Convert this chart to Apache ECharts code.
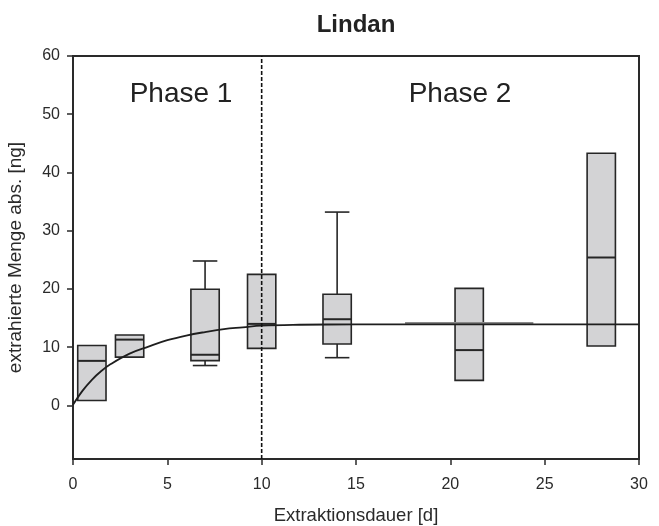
<!DOCTYPE html>
<html>
<head>
<meta charset="utf-8">
<script src="https://cdn.jsdelivr.net/npm/echarts@6/dist/echarts.min.js"></script>
<style>
html,body{margin:0;padding:0;background:#fff;}
#chart{width:659px;height:526px;}
</style>
</head>
<body>
<div id="chart"></div>
<script>
// ---- data ----
const chartTitle = 'Lindan';
const xAxisName = 'Extraktionsdauer [d]';
const yAxisName = 'extrahierte Menge abs. [ng]';
const yTickValues = [0, 10, 20, 30, 40, 50, 60];

const days          = [1,    3,    7,    10,   14,   21,   28];
const lowerWhisker  = [null, null, 6.85, null, 8.2,  null, null];
const q1            = [0.85, 8.3,  7.7,  9.8,  10.55,4.3,  10.2];
const median        = [7.65, 11.3, 8.7,  14.0, 14.8, 9.5,  25.4];
const q3            = [10.3, 12.1, 19.95,22.5, 19.1, 20.1, 43.3];
const upperWhisker  = [null, null, 24.8, null, 33.2, null, null];

const curveDays   = [0,   0.5, 1,   1.5, 2,   3,   4,    5,    6,    7,    8,    9,    10,   12,   15,   20,   25,   30];
const curveValues = [0.1, 2.5, 4.4, 5.9, 7.1, 8.9, 10.1, 11.2, 12.0, 12.6, 13.1, 13.4, 13.7, 13.85,13.9, 13.9, 13.9, 13.9];

const plateauDays   = [17.6, 24.4];
const plateauValues = [14.1, 14.1];

const phaseBoundary = 10;
const phaseLabels = ['Phase 1', 'Phase 2'];

// ---- chart ----
const yMin = -9.2, yMax = 60;
const boxData = days.map((d, i) => [
  d,
  lowerWhisker[i] == null ? q1[i] : lowerWhisker[i],
  q1[i], median[i], q3[i],
  upperWhisker[i] == null ? q3[i] : upperWhisker[i]
]);

const FONT = '"Liberation Sans", Arial, sans-serif';
const INK = '#262626';

function renderBox(params, api) {
  const x = api.value(0);
  const lo = api.value(1), b1 = api.value(2), md = api.value(3), b3 = api.value(4), hi = api.value(5);
  const halfW = api.size([1.5, 0])[0] / 2;
  const capHalf = api.size([1.3, 0])[0] / 2;
  const pTop = api.coord([x, b3]);
  const pBot = api.coord([x, b1]);
  const pMed = api.coord([x, md]);
  const pLo = api.coord([x, lo]);
  const pHi = api.coord([x, hi]);
  const cx = pTop[0];
  const line = { stroke: INK, lineWidth: 1.6, fill: null };
  const children = [];
  if (hi > b3) {
    children.push({ type: 'line', shape: { x1: cx, y1: pTop[1], x2: cx, y2: pHi[1] }, style: line });
    children.push({ type: 'line', shape: { x1: cx - capHalf, y1: pHi[1], x2: cx + capHalf, y2: pHi[1] }, style: line });
  }
  if (lo < b1) {
    children.push({ type: 'line', shape: { x1: cx, y1: pBot[1], x2: cx, y2: pLo[1] }, style: line });
    children.push({ type: 'line', shape: { x1: cx - capHalf, y1: pLo[1], x2: cx + capHalf, y2: pLo[1] }, style: line });
  }
  children.push({
    type: 'rect',
    shape: { x: cx - halfW, y: pTop[1], width: halfW * 2, height: pBot[1] - pTop[1] },
    style: { fill: '#d3d3d5', stroke: INK, lineWidth: 1.6 }
  });
  children.push({ type: 'line', shape: { x1: cx - halfW, y1: pMed[1], x2: cx + halfW, y2: pMed[1] }, style: { stroke: INK, lineWidth: 2 } });
  return { type: 'group', children: children };
}

const chart = echarts.init(document.getElementById('chart'), null, { renderer: 'canvas' });
chart.setOption({
  animation: false,
  backgroundColor: '#ffffff',
  title: {
    text: chartTitle,
    left: 356, top: 13, padding: 0,
    textAlign: 'center',
    textStyle: { fontFamily: FONT, fontSize: 24, fontWeight: 'bold', color: '#222' }
  },
  grid: {
    left: 73, right: 20, top: 56, bottom: 67,
    containLabel: false, outerBoundsMode: 'none',
    show: true, borderColor: '#2a2a2a', borderWidth: 2, backgroundColor: 'transparent'
  },
  xAxis: {
    type: 'value', min: 0, max: 30, interval: 5,
    name: xAxisName, nameLocation: 'middle', nameGap: 47,
    nameTextStyle: { fontFamily: FONT, fontSize: 18.5, color: '#2a2a2a' },
    axisLine: { show: true, onZero: false, lineStyle: { color: '#2a2a2a', width: 2 } },
    axisTick: { show: true, inside: false, length: 6, lineStyle: { color: '#2a2a2a', width: 1.5 } },
    axisLabel: { fontFamily: FONT, fontSize: 16, color: '#2a2a2a', margin: 18 },
    splitLine: { show: false }
  },
  yAxis: {
    type: 'value', min: yMin, max: yMax,
    name: yAxisName, nameLocation: 'middle', nameGap: 48, nameRotate: 90,
    nameTextStyle: { fontFamily: FONT, fontSize: 19, color: '#2a2a2a' },
    axisLine: { show: true, onZero: false, lineStyle: { color: '#2a2a2a', width: 2 } },
    axisTick: { show: true, inside: false, length: 6, customValues: yTickValues, lineStyle: { color: '#2a2a2a', width: 1.5 } },
    axisLabel: { fontFamily: FONT, fontSize: 16, color: '#2a2a2a', margin: 13, customValues: yTickValues },
    splitLine: { show: false }
  },
  graphic: [
    { type: 'text', x: 181, y: 94, z: 100,
      style: { text: phaseLabels[0], fontFamily: FONT, fontSize: 28, fill: '#222', align: 'center', verticalAlign: 'middle' } },
    { type: 'text', x: 460, y: 94, z: 100,
      style: { text: phaseLabels[1], fontFamily: FONT, fontSize: 28, fill: '#222', align: 'center', verticalAlign: 'middle' } }
  ],
  series: [
    {
      type: 'custom', name: 'boxes',
      renderItem: renderBox,
      encode: { x: 0, y: [1, 2, 3, 4, 5] },
      data: boxData, z: 2, silent: true
    },
    {
      type: 'line', name: 'plateau',
      data: plateauDays.map((d, i) => [d, plateauValues[i]]),
      showSymbol: false, symbol: 'none',
      lineStyle: { color: '#8a8a8a', width: 2.5 }, z: 3, silent: true
    },
    {
      type: 'line', name: 'fit',
      data: curveDays.map((d, i) => [d, curveValues[i]]),
      smooth: 0.4, showSymbol: false, symbol: 'none',
      lineStyle: { color: '#1e1e1e', width: 1.8 }, z: 4, silent: true
    },
    {
      type: 'line', name: 'boundary',
      data: [[phaseBoundary, yMin], [phaseBoundary, yMax]],
      showSymbol: false, symbol: 'none',
      lineStyle: { color: '#111', width: 1.6, type: [4, 2] }, z: 5, silent: true
    }
  ]
});
</script>
</body>
</html>
